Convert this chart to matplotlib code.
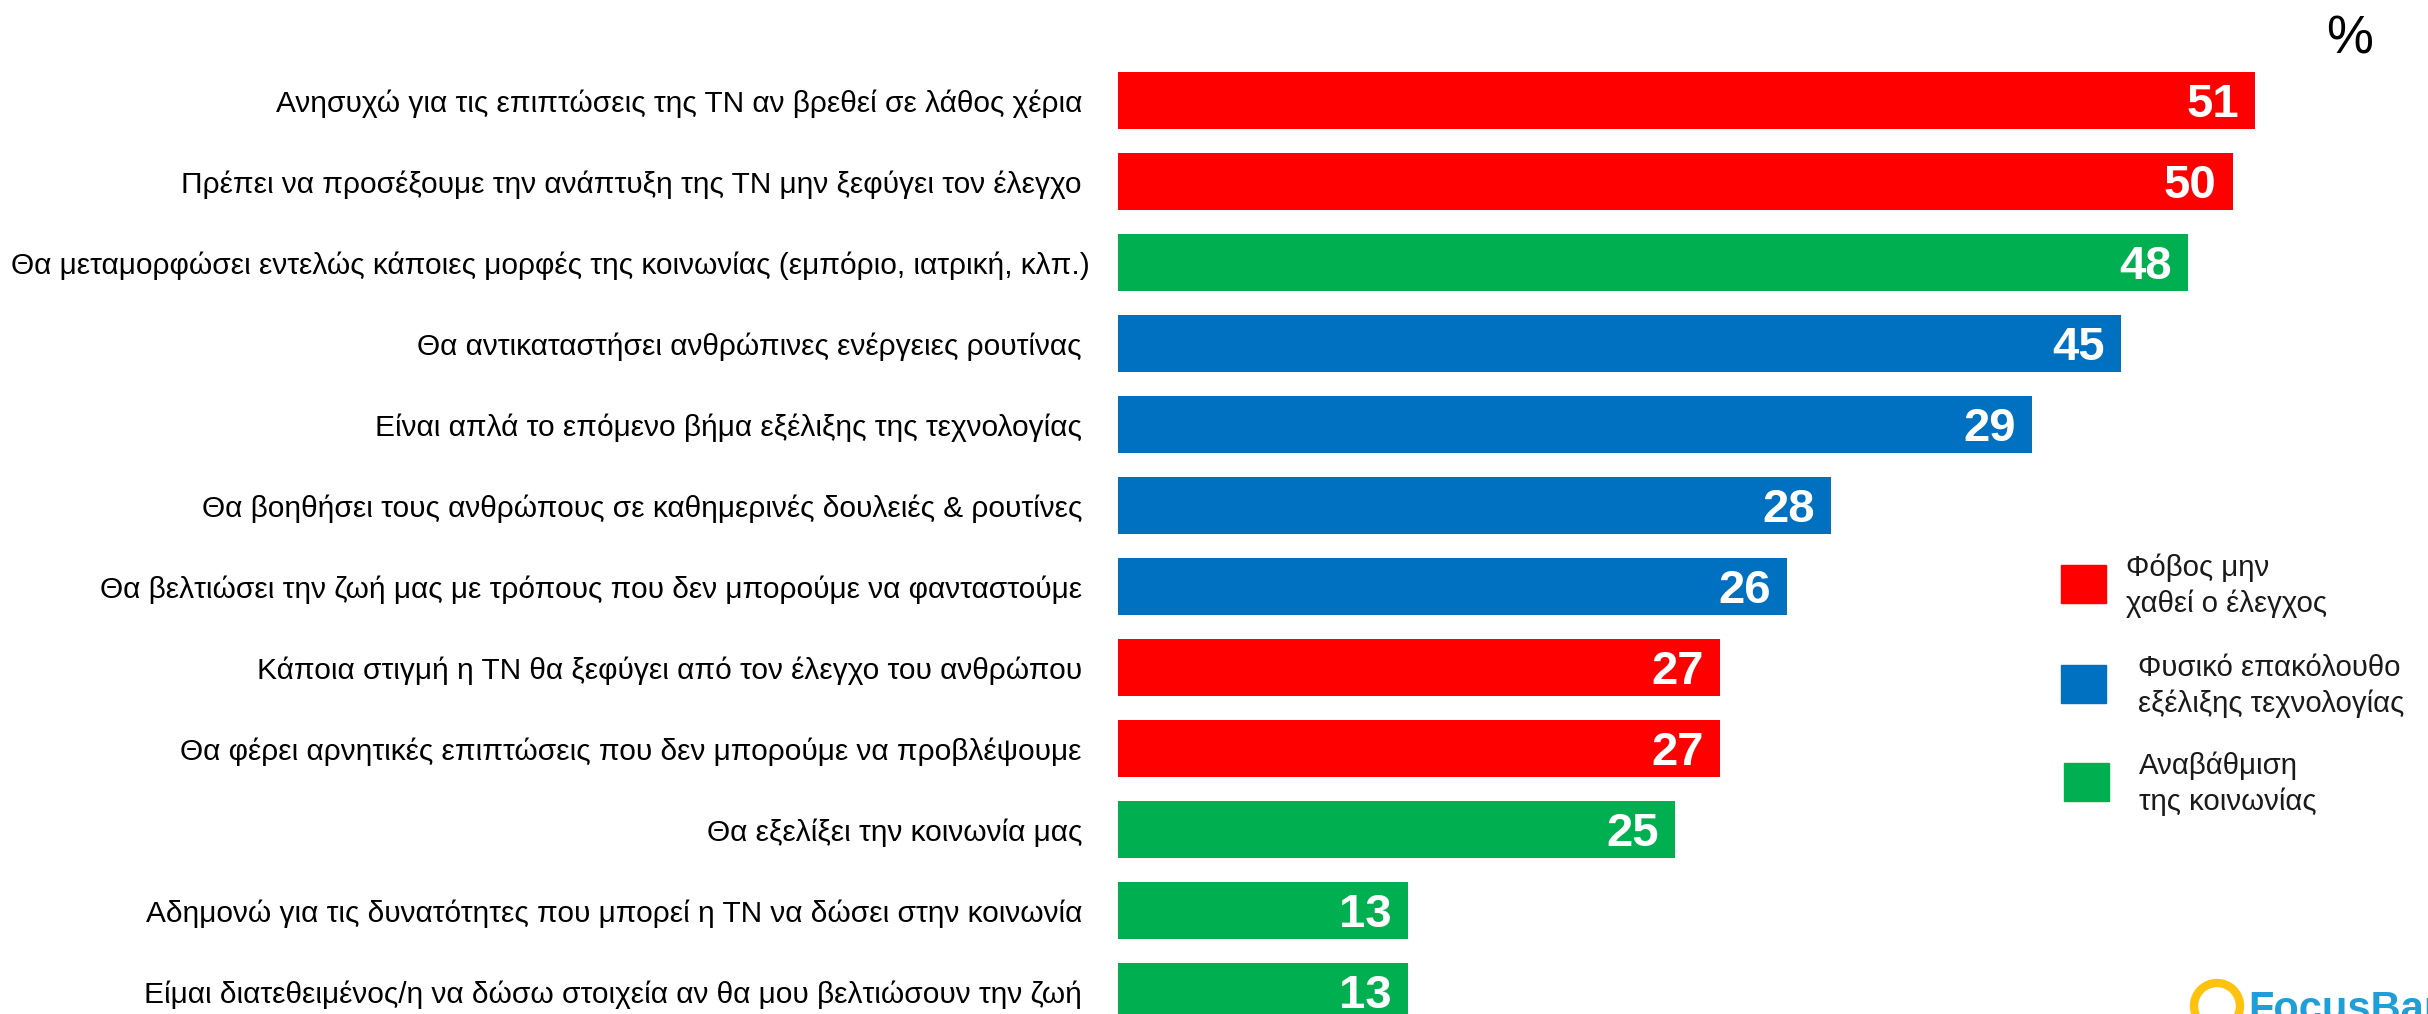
import matplotlib
matplotlib.use("Agg")
import matplotlib.pyplot as plt
from matplotlib.patches import Rectangle, Ellipse

# Δεδομένα (οι μπάρες 4-6 είναι σχεδιασμένες πιο μακριές από την ετικέτα τους στο πρωτότυπο)
statements = [
    "Ανησυχώ για τις επιπτώσεις της ΤΝ αν βρεθεί σε λάθος χέρια ",
    "Πρέπει να προσέξουμε την ανάπτυξη της ΤΝ μην ξεφύγει τον έλεγχο ",
    "Θα μεταμορφώσει εντελώς κάποιες μορφές της κοινωνίας (εμπόριο, ιατρική, κλπ.)",
    "Θα αντικαταστήσει ανθρώπινες ενέργειες ρουτίνας ",
    "Είναι απλά το επόμενο βήμα εξέλιξης της τεχνολογίας ",
    "Θα βοηθήσει τους ανθρώπους σε καθημερινές δουλειές & ρουτίνες ",
    "Θα βελτιώσει την ζωή μας με τρόπους που δεν μπορούμε να φανταστούμε ",
    "Κάποια στιγμή η ΤΝ θα ξεφύγει από τον έλεγχο του ανθρώπου ",
    "Θα φέρει αρνητικές επιπτώσεις που δεν μπορούμε να προβλέψουμε ",
    "Θα εξελίξει την κοινωνία μας ",
    "Αδημονώ για τις δυνατότητες που μπορεί η ΤΝ να δώσει στην κοινωνία ",
    "Είμαι διατεθειμένος/η να δώσω στοιχεία αν θα μου βελτιώσουν την ζωή ",
]
bar_lengths = [51, 50, 48, 45, 41, 32, 30, 27, 27, 25, 13, 13]
value_labels = ["51", "50", "48", "45", "29", "28", "26", "27", "27", "25", "13", "13"]
groups = ["fear", "fear", "upgrade", "natural", "natural", "natural", "natural",
          "fear", "fear", "upgrade", "upgrade", "upgrade"]

group_colors = {"fear": "#FF0000", "natural": "#0070C0", "upgrade": "#00B050"}
legend_items = [
    ("fear", "Φόβος μην\nχαθεί ο έλεγχος"),
    ("natural", "Φυσικό επακόλουθο\nεξέλιξης τεχνολογίας"),
    ("upgrade", "Αναβάθμιση\nτης κοινωνίας"),
]

W, H = 2428, 1014
plt.rcParams["font.family"] = ["Liberation Sans", "DejaVu Sans"]

fig = plt.figure(figsize=(W / 100, H / 100), dpi=100)
fig.patch.set_facecolor("white")

# άξονας: μπάρες από x=1118px, 22.29 px ανά μονάδα, βήμα 81px
x0, px_per_unit = 1118, 22.29
xmax = 58
ax = fig.add_axes([x0 / W, 0, xmax * px_per_unit / W, 1])
ax.set_xlim(0, xmax)
ax.set_ylim((H - 100.5) / 81, -100.5 / 81)

ypos = list(range(len(statements)))
cols = [group_colors[g] for g in groups]
ax.barh(ypos, bar_lengths, height=0.70, color=cols, edgecolor="none")

for y, v, lab in zip(ypos, bar_lengths, value_labels):
    ax.annotate(lab, (v, y), xytext=(-11.5, -12.2), textcoords="offset points",
                ha="right", va="baseline", color="white", fontsize=34,
                fontweight="bold")

ax.set_yticks(ypos)
ax.set_yticklabels(statements, fontsize=21.5, color="black")
ax.tick_params(axis="y", length=0, pad=20)
ax.set_xticks([])
for s in ax.spines.values():
    s.set_visible(False)
ax.patch.set_alpha(0)

# σύμβολο %
fig.text(2350 / W, 1 - 40 / H, "%", ha="center", va="center", fontsize=38)

# υπόμνημα
legend_boxes = [(2061, 565), (2061, 665), (2064, 763)]
text_x = [2126, 2138, 2139]
for (key, txt), (bx, by), tx in zip(legend_items, legend_boxes, text_x):
    fig.add_artist(Rectangle((bx / W, 1 - (by + 38) / H), 45 / W, 38 / H,
                             transform=fig.transFigure, color=group_colors[key]))
    fig.text(tx / W, 1 - (by + 21) / H, txt, ha="left", va="center",
             fontsize=21.2, color="#1a1a1a", linespacing=1.32)

# λογότυπο (κομμένο στην κάτω άκρη, όπως στο πρωτότυπο)
fig.add_artist(Ellipse((2217 / W, 1 - 1006 / H), 46 / W, 46 / H,
                       transform=fig.transFigure, facecolor="none",
                       edgecolor="#FFC20E", linewidth=6))
fig.text(2248 / W, 1 - 1021 / H, "FocusBari", ha="left", va="baseline",
         fontsize=30, fontweight="bold", color="#1E9FD8")

fig.savefig("out.png", dpi=100, facecolor="white")
